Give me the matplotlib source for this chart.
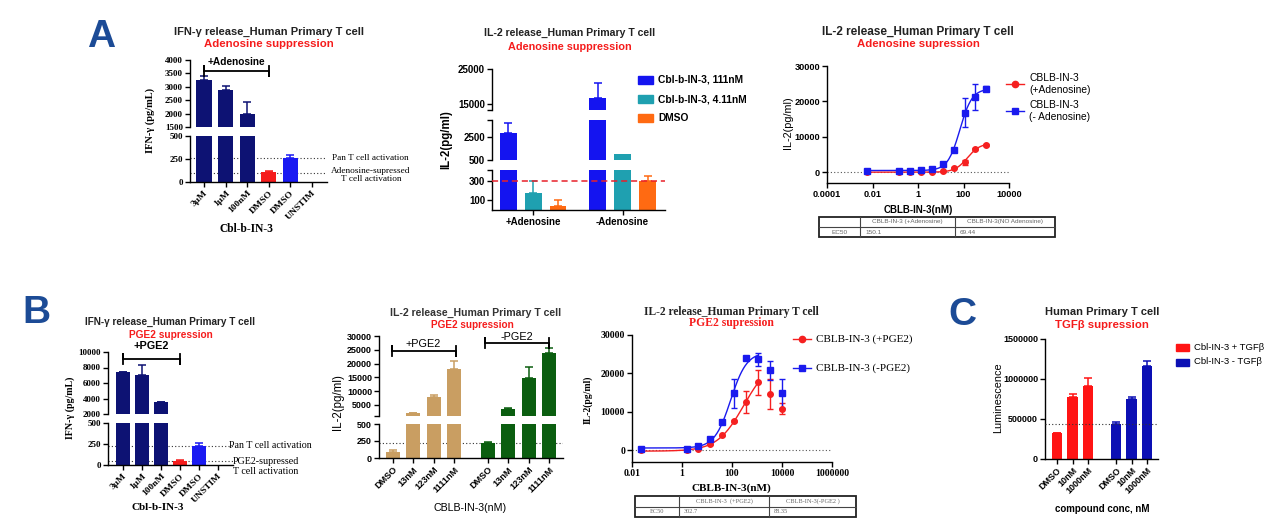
import numpy as np
import matplotlib
matplotlib.use("Agg")
import matplotlib.pyplot as plt
from matplotlib.patches import Rectangle
from matplotlib.lines import Line2D

plt.rcParams['font.family'] = ['Liberation Sans', 'DejaVu Sans']
SANS = ['Liberation Sans', 'DejaVu Sans']
SERIF = ['Liberation Serif', 'DejaVu Serif']

# ---------------- data ----------------
# A1: IFN-g, adenosine suppression
a1_labels = ["3μM", "1μM", "100nM", "DMSO", "DMSO", "UNSTIM"]
a1_values = [3250, 2870, 1980, 105, 260, 5]
a1_errors = [150, 160, 460, 20, 30, 0]
a1_ref = [265, 100]

# A2: IL-2, adenosine suppression
a2_groups = ["+Adenosine", "-Adenosine"]
a2_series = ["Cbl-b-IN-3, 111nM", "Cbl-b-IN-3, 4.11nM", "DMSO"]
a2_111nm = [2850, 16700]
a2_111nm_err = [840, 4300]
a2_411nm = [181, 970]
a2_411nm_err = [120, 0]
a2_dmso = [47, 300]
a2_dmso_err = [63, 52]
a2_ref = 300

# A3: IL-2 dose response, adenosine
a3_conc = [0.0056, 0.152, 0.457, 1.37, 4.12, 12.3, 37, 111, 333, 1000]
a3_plus = [0, 0, 0, 0, 0, 300, 1300, 2800, 6700, 7700]
a3_plus_err = [0, 0, 0, 0, 0, 100, 200, 800, 300, 250]
a3_minus = [300, 300, 370, 750, 930, 2300, 6200, 16800, 21200, 23600]
a3_minus_err = [0, 0, 0, 0, 0, 300, 400, 4100, 3600, 700]
a3_names = ["CBLB-IN-3\n(+Adenosine)", "CBLB-IN-3\n(- Adenosine)"]
a3_table_head = ["", "CBLB-IN-3 (+Adenosine)", "CBLB-IN-3(NO Adenosine)"]
a3_ec50 = [150.1, 69.44]

# B1: IFN-g, PGE2 suppression
b1_labels = ["3μM", "1μM", "100nM", "DMSO", "DMSO", "UNSTIM"]
b1_values = [7400, 7000, 3500, 45, 230, 3]
b1_errors = [80, 1300, 100, 15, 35, 0]
b1_ref = [230, 45]

# B2: IL-2, PGE2 suppression
b2_labels = ["DMSO", "13nM", "123nM", "1111nM"]
b2_plus = [90, 2000, 8000, 17900]
b2_plus_err = [28, 200, 600, 2900]
b2_minus = [220, 3550, 14900, 23900]
b2_minus_err = [8, 250, 4000, 1700]
b2_ref = 220

# B3: IL-2 dose response, PGE2
b3_conc = [0.0229, 1.52, 4.57, 13.7, 41.2, 123, 370, 1111, 3333, 10000]
b3_plus = [0, 100, 400, 1600, 3900, 7700, 12600, 17700, 14600, 10900]
b3_plus_err = [0, 0, 100, 200, 200, 300, 2800, 3200, 3900, 1500]
b3_minus = [300, 500, 1200, 3000, 7500, 14800, 24100, 23700, 20800, 14800]
b3_minus_err = [0, 0, 100, 300, 300, 3700, 300, 1700, 2500, 3700]
b3_fit_n = 8
b3_names = ["CBLB-IN-3 (+PGE2)", "CBLB-IN-3 (-PGE2)"]
b3_table_head = ["", "CBLB-IN-3  (+PGE2)", "CBLB-IN-3(-PGE2 )"]
b3_ec50 = [302.7, 88.35]

# C: TGFb suppression
c_labels = ["DMSO", "10nM", "1000nM"]
c_series = ["Cbl-IN-3 + TGFβ", "Cbl-IN-3 - TGFβ"]
c_plus = [320000, 773000, 915000]
c_plus_err = [8000, 37000, 96000]
c_minus = [439000, 752000, 1166000]
c_minus_err = [29000, 29000, 54000]
c_ref = 435000

# ---------------- layout helpers ----------------
W, H = 1274, 524
fig = plt.figure(figsize=(W / 100, H / 100), dpi=100)

NAVY = '#0d1273'
RED = '#f51c1c'
BLUE = '#1a1af2'
LETTER = '#1c4b96'


def box(x0, y0, x1, y1):
    return fig.add_axes([x0 / W, 1 - y1 / H, (x1 - x0) / W, (y1 - y0) / H])


def ftext(x, y, s, **kw):
    kw.setdefault('ha', 'center')
    kw.setdefault('va', 'center')
    return fig.text(x / W, 1 - y / H, s, **kw)


def base_style(ax, bottom=True):
    for sp in ['top', 'right']:
        ax.spines[sp].set_visible(False)
    for sp in ['left', 'bottom']:
        ax.spines[sp].set_linewidth(1.0)
    if not bottom:
        ax.spines['bottom'].set_visible(False)
        ax.tick_params(axis='x', bottom=False, labelbottom=False)
    ax.tick_params(direction='out', length=3.5, width=1.0, pad=1.5)
    ax.patch.set_alpha(0)


def seg_bars(xr, segs, pos, vals, errs, colors, width, xlim, font, size=6.5):
    # one axes per y-segment of a broken axis
    axes = []
    for i, (y0, y1, ylim, ticks, labels) in enumerate(segs):
        ax = box(xr[0], y0, xr[1], y1)
        for p, v, e, c in zip(pos, vals, errs, colors):
            if v > ylim[0]:
                ax.bar(p, v, width, color=c, zorder=2)
            if e > 0 and v + e > ylim[0]:
                ax.errorbar(p, v, yerr=[[0], [e]], fmt='none', ecolor=c,
                            elinewidth=1.1, capsize=2.6, capthick=1.1, zorder=2)
        ax.set_xlim(*xlim)
        ax.set_ylim(*ylim)
        ax.set_yticks(ticks, labels, fontfamily=font, fontweight='bold', fontsize=size)
        base_style(ax, bottom=(i == len(segs) - 1))
        axes.append(ax)
    return axes


def fit_curve(x, y, ec50):
    # 4PL fit with the reported EC50; hill by grid, bottom/top by least squares
    lx = np.log10(x)
    best = None
    for h in np.linspace(0.4, 4, 361):
        f = 1 / (1 + 10 ** ((np.log10(ec50) - lx) * h))
        A = np.column_stack([1 - f, f])
        coef = np.linalg.lstsq(A, y, rcond=None)[0]
        sse = np.sum((A @ coef - y) ** 2)
        if best is None or sse < best[0]:
            best = (sse, h, coef)
    _, h, (bot, top) = best
    xs = np.logspace(lx[0], lx[-1], 200)
    fs = 1 / (1 + 10 ** ((np.log10(ec50) - np.log10(xs)) * h))
    return xs, bot + (top - bot) * fs


def draw_table(x0, y0, x1, y1, cols, head, ec50, font):
    ax = box(x0 - 2, y0 - 2, x1 + 2, y1 + 2)
    ax.set_xlim(x0 - 2, x1 + 2)
    ax.set_ylim(y1 + 2, y0 - 2)
    ax.axis('off')
    ax.add_patch(Rectangle((x0, y0), x1 - x0, y1 - y0, fill=False, lw=1.3, ec='#222222'))
    ym = (y0 + y1) / 2
    ax.plot([x0, x1], [ym, ym], color='#444444', lw=0.8)
    for c in cols:
        ax.plot([c, c], [y0, y1], color='#444444', lw=0.8)
    edges = [x0] + list(cols) + [x1]
    for k in range(3):
        cx = (edges[k] + edges[k + 1]) / 2
        ax.text(cx, (y0 + ym) / 2, head[k], ha='center', va='center',
                fontsize=4.6, color='#666666', fontfamily=font)
    ax.text((edges[0] + edges[1]) / 2, (ym + y1) / 2, "EC50", ha='center', va='center',
            fontsize=4.6, color='#666666', fontfamily=font)
    for k in range(2):
        ax.text(edges[k + 1] + 5, (ym + y1) / 2, str(ec50[k]), ha='left', va='center',
                fontsize=4.6, color='#666666', fontfamily=font)


def legend_line(x, y, color, marker, label, font, size, dx=9):
    fig.add_artist(Line2D([(x - dx) / W, (x + dx) / W], [1 - y / H, 1 - y / H],
                          color=color, lw=1, transform=fig.transFigure))
    fig.add_artist(Line2D([x / W], [1 - y / H], color=color, marker=marker, ms=4.5,
                          transform=fig.transFigure))
    ftext(x + 14, y, label, ha='left', fontsize=size, fontfamily=font)


def legend_box(x, y, w, h, color, label, size, weight='normal'):
    fig.add_artist(Rectangle(((x - w / 2) / W, 1 - (y + h / 2) / H), w / W, h / H,
                             color=color, transform=fig.transFigure))
    ftext(x + w / 2 + 6, y, label, ha='left', fontsize=size, fontweight=weight)


# ---------------- panel letters ----------------
ftext(101, 47, "A", va='baseline', fontsize=28, fontweight='bold', color=LETTER)
ftext(36, 323, "B", va='baseline', fontsize=28, fontweight='bold', color=LETTER)
ftext(962, 325, "C", va='baseline', fontsize=28, fontweight='bold', color=LETTER)

# ---------------- A1 ----------------
pos = np.arange(len(a1_values))
cols = [NAVY, NAVY, NAVY, RED, BLUE, NAVY]
t_up = [1500, 2000, 2500, 3000, 3500, 4000]
up, lo = seg_bars((190, 327), [(60, 127, (1500, 4000), t_up, [str(t) for t in t_up]),
                               (136, 182, (0, 500), [0, 250, 500], ["0", "250", "500"])],
                  pos, a1_values, a1_errors, cols, 0.7, (-0.65, 5.7), SERIF)
for r in a1_ref:
    lo.axhline(r, color='#333333', lw=0.8, ls=(0, (1, 2)), zorder=1)
lo.set_xticks(pos, a1_labels, rotation=45, ha='right', rotation_mode='anchor',
              fontfamily=SERIF, fontweight='bold', fontsize=6.8)
up.plot([0, 0, 0, 3, 3, 3], [3400, 3780, 3590, 3590, 3400, 3780], color='black', lw=1.3,
        clip_on=False)
up.text(1.5, 3930, "+Adenosine", ha='center', va='center', fontsize=7.3, fontweight='bold')
ftext(332, 158, "Pan T cell activation", ha='left', fontsize=6.7, fontfamily=SERIF)
ftext(371, 175, "Adenosine-supressed\nT cell activation", fontsize=6.7, fontfamily=SERIF,
      linespacing=0.95)
ftext(269, 32, "IFN-γ release_Human Primary T cell", fontsize=8, fontweight='bold', color='#222222')
ftext(269, 44, "Adenosine suppression", fontsize=8.2, fontweight='bold', color=RED)
ftext(150, 120, "IFN-γ (pg/mL)", rotation=90, fontsize=7.5, fontweight='bold', fontfamily=SERIF)
ftext(246, 229, "Cbl-b-IN-3", fontsize=8.3, fontweight='bold', fontfamily=SERIF)

# ---------------- A2 ----------------
A2C = ['#1414f0', '#1fa0b0', '#ff6a12']
p_plus = np.array([0, 1, 2])
p_all = np.concatenate([p_plus, p_plus + 3.6])
vals = [a2_111nm[0], a2_411nm[0], a2_dmso[0], a2_111nm[1], a2_411nm[1], a2_dmso[1]]
errs = [a2_111nm_err[0], a2_411nm_err[0], a2_dmso_err[0],
        a2_111nm_err[1], a2_411nm_err[1], a2_dmso_err[1]]
axs = seg_bars((492, 665), [(69, 110, (13400, 25000), [13400, 15000, 25000], ["", "15000", "25000"]),
                            (120, 159.5, (500, 4000), [500, 2500, 4000], ["500", "2500", ""]),
                            (170, 210, (0, 420), [100, 300, 420], ["100", "300", ""])],
               p_all, vals, errs, A2C * 2, 0.68, (-0.65, 6.3), SANS, size=7)
axs[2].axhline(a2_ref, color='#e8202a', lw=1.1, ls=(0, (4, 2.5)), zorder=3)
axs[2].set_xticks([1, 4.6], a2_groups, fontsize=7, fontweight='bold')
for k, lab in enumerate(a2_series):
    legend_box(645, 80 + 19 * k, 15, 8, A2C[k], lab, 7.4, 'bold')
ftext(570, 33, "IL-2 release_Human Primary T cell", fontsize=7.6, color='#222222',
      fontweight='bold')
ftext(570, 47, "Adenosine suppression", fontsize=7.8, color=RED, fontweight='bold')
ftext(446, 140, "IL-2(pg/ml)", rotation=90, fontsize=8.3, fontweight='bold')

# ---------------- A3 ----------------
ax = box(827, 66, 1009, 183)
ax.set_xscale('log')
ax.set_xlim(1e-4, 1e4)
ax.set_ylim(-3000, 30000)
base_style(ax)
ax.minorticks_off()
ax.axhline(0, color='#555555', lw=0.8, ls=(0, (1, 2)), zorder=1)
for yv, ev, c, m, ec in [(a3_plus, a3_plus_err, '#f52020', 'o', a3_ec50[0]),
                         (a3_minus, a3_minus_err, '#1a1aee', 's', a3_ec50[1])]:
    xs, ys = fit_curve(np.array(a3_conc), np.array(yv, float), ec)
    ax.plot(xs, ys, color=c, lw=1)
    ax.errorbar(a3_conc, yv, yerr=ev, fmt=m, color=c, ms=4, elinewidth=1, capsize=2)
ax.set_xticks([1e-4, 1e-2, 1, 1e2, 1e4], ["0.0001", "0.01", "1", "100", "10000"],
              fontsize=6.6, fontweight='bold')
ax.set_yticks([0, 10000, 20000, 30000], ["0", "10000", "20000", "30000"],
              fontsize=6.6, fontweight='bold')
ftext(918, 32, "IL-2 release_Human Primary T cell", fontsize=8.5, fontweight='bold',
      color='#222222')
ftext(918, 44, "Adenosine supression", fontsize=8.2, fontweight='bold', color=RED)
ftext(788, 123, "IL-2(pg/ml)", rotation=90, fontsize=7.8)
ftext(918, 210, "CBLB-IN-3(nM)", fontsize=7, fontweight='bold')
legend_line(1015, 84, '#f52020', 'o', a3_names[0], SANS, 7.4)
legend_line(1015, 111, '#1a1aee', 's', a3_names[1], SANS, 7.4)
draw_table(819, 217, 1055, 237, [860, 955], a3_table_head, a3_ec50, SANS)

# ---------------- B1 ----------------
pos = np.arange(len(b1_values))
t_up = [2000, 4000, 6000, 8000, 10000]
up, lo = seg_bars((108, 233), [(352, 414, (2000, 10000), t_up, [str(t) for t in t_up]),
                               (423, 465, (0, 500), [0, 250, 500], ["0", "250", "500"])],
                  pos, b1_values, b1_errors, cols, 0.74, (-0.79, 5.8), SERIF)
for r in b1_ref:
    lo.axhline(r, color='#333333', lw=0.8, ls=(0, (1, 2)), zorder=1)
lo.set_xticks(pos, b1_labels, rotation=45, ha='right', rotation_mode='anchor',
              fontfamily=SERIF, fontweight='bold', fontsize=6.8)
up.plot([0, 0, 0, 3, 3, 3], [8450, 9750, 9100, 9100, 8450, 9750], color='black', lw=1.3,
        clip_on=False)
up.text(1.5, 10770, "+PGE2", ha='center', va='center', fontsize=7.8, fontweight='bold',
        clip_on=False)
ftext(229, 445, "Pan T cell activation", ha='left', fontsize=7.2, fontfamily=SERIF)
ftext(233, 461, "PGE2-supressed", ha='left', fontsize=7.2, fontfamily=SERIF)
ftext(233, 472, "T cell activation", ha='left', fontsize=7.2, fontfamily=SERIF)
ftext(170, 322, "IFN-γ release_Human Primary T cell", fontsize=7.2, fontweight='bold',
      color='#222222')
ftext(171, 334.5, "PGE2 supression", fontsize=7.3, fontweight='bold', color=RED)
ftext(70, 408, "IFN-γ (pg/mL)", rotation=90, fontsize=7.2, fontweight='bold', fontfamily=SERIF)
ftext(158, 508, "Cbl-b-IN-3", fontsize=8, fontweight='bold', fontfamily=SERIF)

# ---------------- B2 ----------------
TAN = '#c99e62'
GREEN = '#0b5e10'
p1 = np.arange(4)
p_all = np.concatenate([p1, p1 + 4.68])
vals = b2_plus + b2_minus
errs = b2_plus_err + b2_minus_err
t_up = [5000, 10000, 15000, 20000, 25000, 30000]
up, lo = seg_bars((379, 563), [(336, 416, (1000, 30000), [1000] + t_up, [""] + [str(t) for t in t_up]),
                               (424, 458, (0, 500), [0, 250, 500], ["0", "250", "500"])],
                  p_all, vals, errs, [TAN] * 4 + [GREEN] * 4, 0.69, (-0.69, 8.37), SANS)
lo.axhline(b2_ref, color='#333333', lw=0.8, ls=(0, (1, 2)), zorder=1)
lo.set_xticks(p_all, b2_labels * 2, rotation=45, ha='right', rotation_mode='anchor',
              fontsize=6.6, fontweight='bold')
up.plot([-0.05, -0.05, -0.05, 3.1, 3.1, 3.1], [22760, 26360, 24560, 24560, 22760, 26360],
        color='black', lw=1.3, clip_on=False)
up.text(1.5, 27100, "+PGE2", ha='center', va='center', fontsize=7.8, clip_on=False)
up.plot([4.53, 4.53, 4.53, 7.7, 7.7, 7.7], [25660, 29260, 27460, 27460, 25660, 29260],
        color='black', lw=1.3, clip_on=False)
up.text(6.1, 29750, "-PGE2", ha='center', va='center', fontsize=7.8, clip_on=False)
ftext(476, 312.5, "IL-2 release_Human Primary T cell", fontsize=7.6, fontweight='bold',
      color='#333333')
ftext(472, 324.5, "PGE2 supression", fontsize=7.2, fontweight='bold', color=RED)
ftext(338, 402, "IL-2(pg/ml)", rotation=90, fontsize=8.3)
ftext(470, 508, "CBLB-IN-3(nM)", fontsize=7.7)

# ---------------- B3 ----------------
ax = box(632, 335, 832, 462)
ax.set_xscale('log')
ax.set_xlim(1e-2, 1e6)
ax.set_ylim(-3000, 30000)
base_style(ax)
ax.minorticks_off()
ax.axhline(0, color='#555555', lw=0.8, ls=(0, (1, 2)), zorder=1)
for yv, ev, c, m, ec in [(b3_plus, b3_plus_err, '#f52020', 'o', b3_ec50[0]),
                         (b3_minus, b3_minus_err, '#1a1aee', 's', b3_ec50[1])]:
    xs, ys = fit_curve(np.array(b3_conc[:b3_fit_n]), np.array(yv[:b3_fit_n], float), ec)
    ax.plot(xs, ys, color=c, lw=1)
    ax.errorbar(b3_conc, yv, yerr=ev, fmt=m, color=c, ms=4, elinewidth=1, capsize=2)
ax.set_xticks([1e-2, 1, 1e2, 1e4, 1e6], ["0.01", "1", "100", "10000", "1000000"],
              fontsize=7, fontweight='bold', fontfamily=SERIF)
ax.set_yticks([0, 10000, 20000, 30000], ["0", "10000", "20000", "30000"],
              fontsize=7, fontweight='bold', fontfamily=SERIF)
ftext(731, 312, "IL-2 release_Human Primary T cell", fontsize=8.3, fontweight='bold',
      fontfamily=SERIF, color='#222222')
ftext(731, 323, "PGE2 supression", fontsize=8.4, fontweight='bold', fontfamily=SERIF, color=RED)
ftext(588, 400, "IL-2(pg/ml)", rotation=90, fontsize=7, fontweight='bold', fontfamily=SERIF)
ftext(731, 488, "CBLB-IN-3(nM)", fontsize=8, fontweight='bold', fontfamily=SERIF)
legend_line(802, 339, '#f52020', 'o', b3_names[0], SERIF, 8)
legend_line(802, 368, '#1a1aee', 's', b3_names[1], SERIF, 8)
draw_table(635, 496, 856, 517, [679, 769], b3_table_head, b3_ec50, SERIF)

# ---------------- C ----------------
CRED = '#ff1414'
CBLUE = '#0c10b4'
p1 = np.arange(3)
p_all = np.concatenate([p1, p1 + 3.8])
t_c = [0, 500000, 1000000, 1500000]
(ax,) = seg_bars((1045, 1158), [(339, 459, (0, 1500000), t_c, [str(t) for t in t_c])],
                 p_all, c_plus + c_minus, c_plus_err + c_minus_err,
                 [CRED] * 3 + [CBLUE] * 3, 0.66, (-0.77, 6.5), SANS)
ax.axhline(c_ref, color='#333333', lw=0.8, ls=(0, (1, 2)), zorder=3)
ax.set_xticks(p_all, c_labels * 2, rotation=45, ha='right', rotation_mode='anchor',
              fontsize=6.5, fontweight='bold')
legend_box(1182, 347, 13, 7, CRED, c_series[0], 6.8)
legend_box(1182, 362, 13, 7, CBLUE, c_series[1], 6.8)
ftext(1102, 312, "Human Primary T cell", fontsize=8, fontweight='bold', color='#222222')
ftext(1102, 325, "TGFβ supression", fontsize=8.2, fontweight='bold', color=RED)
ftext(998, 398, "Luminescence", rotation=90, fontsize=7.8)
ftext(1102, 509, "compound conc, nM", fontsize=7, fontweight='bold')

fig.savefig("out.png", dpi=100)
